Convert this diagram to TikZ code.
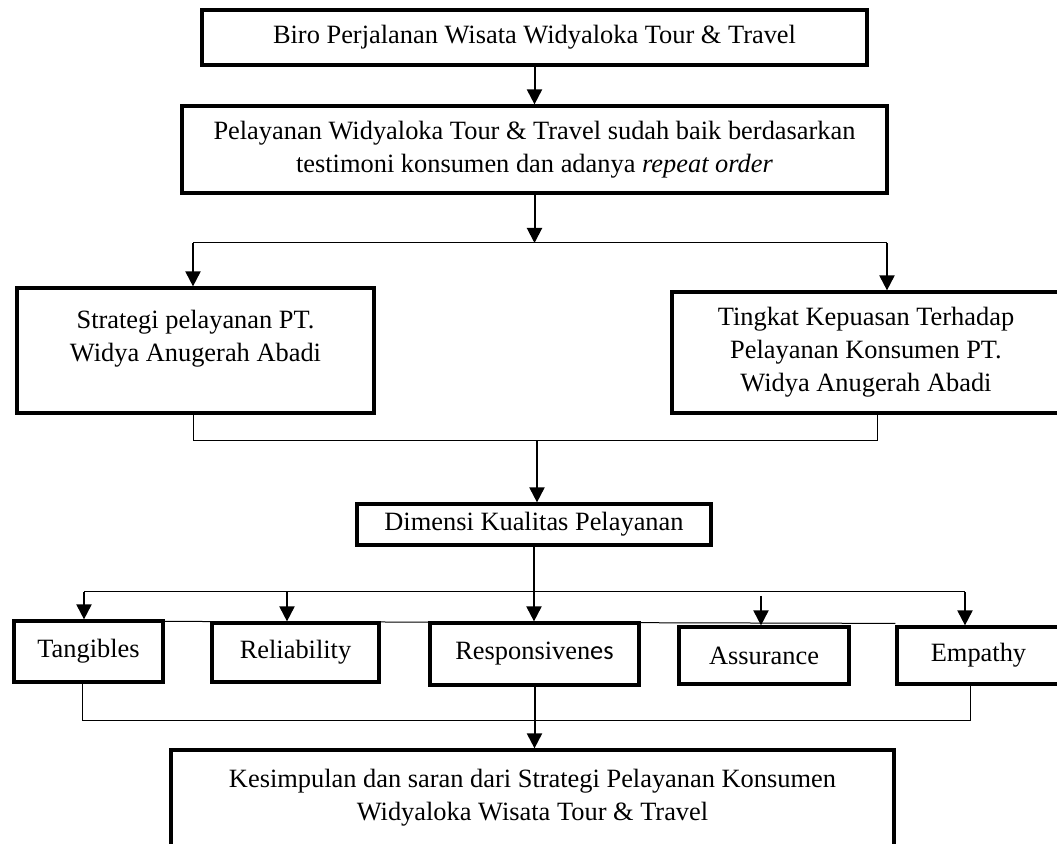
\documentclass[tikz,border=0pt]{standalone}
\usepackage{fontspec}
\setmainfont{Liberation Serif}
\newfontfamily\calibrifont{Carlito}
\usetikzlibrary{arrows.meta}
\tikzset{
    flow-box/.style = {draw, line width=1.6pt, fill=white, rectangle, align=center, inner sep=0pt, font=\fontsize{13.2pt}{16.5pt}\selectfont},
    flow-arrow/.style = {line width=1pt, -{Triangle[length=7.5pt,width=7.5pt]}},
    flow-line/.style = {line width=0.5pt},
}

\begin{document}
\begin{tikzpicture}[x=0.5pt,y=-0.5pt]
\useasboundingbox (0,0) rectangle (1057,844);
\node[flow-box, minimum width=332.5pt, minimum height=27.5pt] (biro) at (534.5,37.5) {Biro Perjalanan Wisata Widyaloka Tour \& Travel};
\node[flow-box, minimum width=352.5pt, minimum height=43.5pt] (pelay) at (534.5,149.5) {Pelayanan Widyaloka Tour \& Travel sudah baik berdasarkan\\testimoni konsumen dan adanya \textit{repeat order}};
\node[flow-box, minimum width=178.5pt, minimum height=62.5pt, text depth=15pt] (strat) at (195.5,350.5) {Strategi pelayanan PT.\\Widya Anugerah Abadi};
\node[flow-box, minimum width=194pt, minimum height=60.5pt] (puas) at (866,352.5) {Tingkat Kepuasan Terhadap\\Pelayanan Konsumen PT.\\Widya Anugerah Abadi};
\node[flow-box, minimum width=177pt, minimum height=20.5pt] (dimen) at (534,524.5) {Dimensi Kualitas Pelayanan};
\node[flow-box, minimum width=74.5pt, minimum height=30.5pt] (tang) at (88.5,651.5) {Tangibles};
\node[flow-box, minimum width=83.5pt, minimum height=29.5pt] (reli) at (295.5,652.5) {Reliability};
\node[flow-box, minimum width=104.5pt, minimum height=31pt] (resp) at (534.5,654) {Responsiven{\calibrifont es}};
\node[flow-box, minimum width=85pt, minimum height=28.5pt] (assu) at (764,655.5) {Assurance};
\node[flow-box, minimum width=81.5pt, minimum height=28.5pt] (empa) at (978.5,655.5) {Empathy};
\node[flow-box, minimum width=361.5pt, minimum height=48pt] (kesi) at (532.5,798) {Kesimpulan dan saran dari Strategi Pelayanan Konsumen\\Widyaloka Wisata Tour \& Travel};

\coordinate (split-mid) at (537,243);
\coordinate (split-left) at (193,243);
\coordinate (split-right) at (887,243);
\coordinate (join-mid) at (537,441);
\coordinate (join-left) at (193,441);
\coordinate (join-right) at (877,441);
\coordinate (row-tang) at (84,592);
\coordinate (row-reli) at (287,592);
\coordinate (row-assu) at (761,596);
\coordinate (row-empa) at (965,592);
\coordinate (foot-left) at (82,721);
\coordinate (foot-right) at (970,721);

\draw[flow-arrow] (biro.south) -- (pelay.north);
\draw[flow-arrow] (pelay.south) -- (pelay.south |- split-mid);
\draw[flow-line] (split-left) -- (split-right);
\draw[flow-arrow] (split-left) -- (split-left |- strat.north);
\draw[flow-arrow] (split-right) -- (split-right |- puas.north);

\draw[flow-line] (join-left |- strat.south) -- (join-left) -- (join-right) -- (join-right |- puas.south);
\draw[flow-arrow] (join-mid) -- (join-mid |- dimen.north);

\draw[flow-line] (row-tang) -- (row-empa);
\draw[flow-arrow] (dimen.south) -- (dimen.south |- resp.north);
\draw[flow-arrow] (row-tang) -- (row-tang |- tang.north);
\draw[flow-arrow] (row-reli) -- (row-reli |- reli.north);
\draw[flow-arrow] (row-assu) -- (row-assu |- assu.north);
\draw[flow-arrow] (row-empa) -- (row-empa |- empa.north);
\draw[flow-line] ([yshift=-1pt]tang.north east) -- ([yshift=1pt]empa.north west);

\draw[flow-line] (foot-left |- tang.south) -- (foot-left) -- (foot-right) -- (foot-right |- empa.south);
\draw[flow-arrow] (resp.south) -- (resp.south |- kesi.north);
\end{tikzpicture}
\end{document}
